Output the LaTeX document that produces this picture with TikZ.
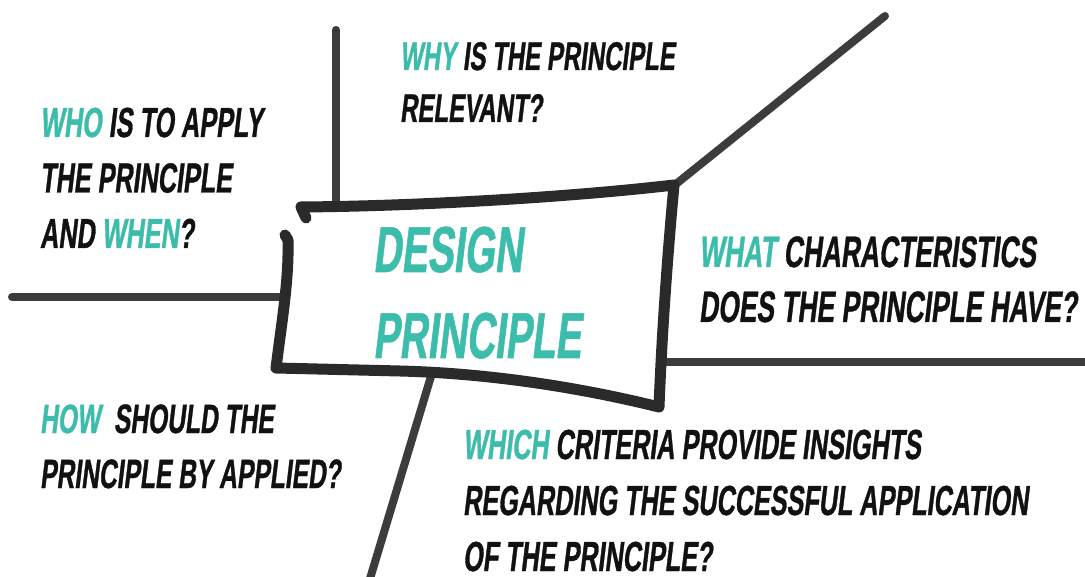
\documentclass[tikz,border=0pt]{standalone}
\usepackage{fontspec}
\newfontfamily\hand{Liberation Sans}[FakeStretch=0.6,FakeSlant=0.12,FakeBold=0.8]
\definecolor{tealq}{HTML}{3CBCAB}
\definecolor{linegray}{HTML}{3C3C3E}
\definecolor{boxgray}{HTML}{2A2A2A}
\definecolor{inkq}{HTML}{111111}
\newcommand\qf[2]{\hand\bfseries\fontsize{#1}{#2}\selectfont}
\newcommand\tq[1]{\textcolor{tealq}{#1}}
\tikzset{
  branch/.style={draw=linegray, line width=8, line cap=round},
  boxline/.style={draw=boxgray, line width=11, line cap=round, line join=round},
  qtext/.style={anchor=base west, inner sep=0pt, outer sep=0pt, align=left, text=inkq},
}
\begin{document}
\begin{tikzpicture}[x=1pt,y=-1pt]
\useasboundingbox[fill=white] (0,0) rectangle (1085,577);
% branch end points
\coordinate (leftEnd) at (12,297);
\coordinate (leftJoin) at (285,297);
\coordinate (topEnd) at (336,30);
\coordinate (topJoin) at (336,205);
\coordinate (diagEnd) at (885,16);
\coordinate (diagJoin) at (676,184);
\coordinate (rightEnd) at (1090,362);
\coordinate (rightJoin) at (664,362);
\coordinate (botEnd) at (369,582);
\coordinate (botJoin) at (432,373);
% branches
\draw[branch] (leftEnd) -- (leftJoin);
\draw[branch] (topEnd) -- (topJoin);
\draw[branch] (diagJoin) -- (diagEnd);
\draw[branch] (rightJoin) -- (rightEnd);
\draw[branch] (botJoin) -- (botEnd);
% hand drawn box
\draw[boxline] (306,218) -- (301,207)
  .. controls (430,206) and (580,196) .. (674,185)
  .. controls (668,250) and (662,330) .. (659,407)
  .. controls (570,385) and (480,373) .. (400,371)
  -- (276,368)
  .. controls (282,320) and (289,280) .. (288,240)
  -- (285,235);
% texts (anchor = baseline of last line)
\node[qtext, font=\qf{65}{86}] (design) at (373,358) {\tq{DESIGN}\\\tq{PRINCIPLE}};
\node[qtext, font=\qf{42}{55.5}] (who) at (40,248) {\tq{WHO} IS TO APPLY\\THE PRINCIPLE\\AND \tq{WHEN}?};
\node[qtext, font=\qf{40}{52}] (why) at (400,122) {\tq{WHY} IS THE PRINCIPLE\\RELEVANT?};
\node[qtext, font=\qf{44}{55}] (what) at (699,322) {\tq{WHAT} CHARACTERISTICS\\DOES THE PRINCIPLE HAVE?};
\node[qtext, font=\qf{41}{55}] (how) at (40,488) {\tq{HOW}\ \ SHOULD THE\\PRINCIPLE BY APPLIED?};
\node[qtext, font=\qf{42}{56}] (which) at (463,571) {\tq{WHICH} CRITERIA PROVIDE INSIGHTS\\REGARDING THE SUCCESSFUL APPLICATION\\OF THE PRINCIPLE?};
\end{tikzpicture}
\end{document}
